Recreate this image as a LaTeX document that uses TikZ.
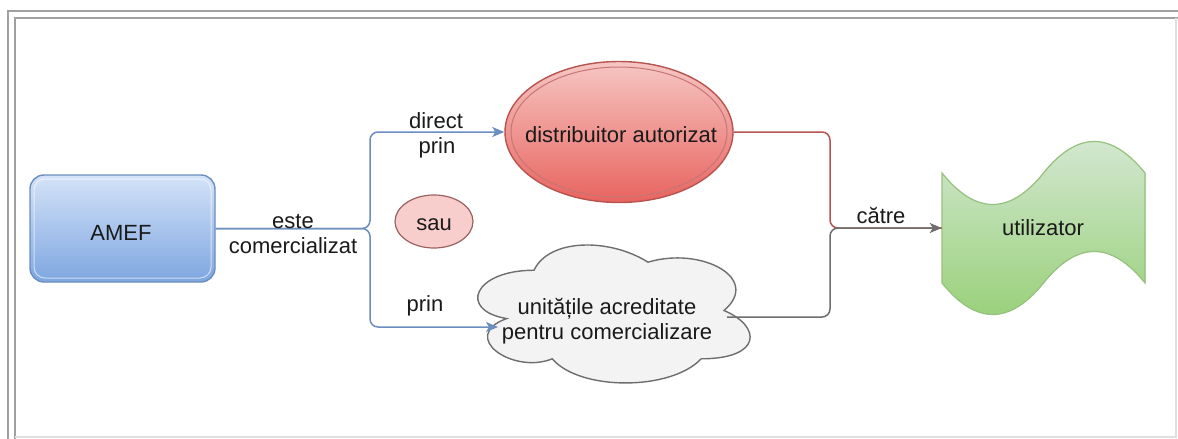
\documentclass[tikz,border=0pt]{standalone}
\usepackage{fontspec}
\setmainfont{Liberation Sans}
\usetikzlibrary{arrows.meta,shapes.geometric}
\definecolor{frameln}{HTML}{A0A0A0}
\definecolor{blueln}{HTML}{6C8EBF}
\definecolor{bluetop}{HTML}{D4E3F8}
\definecolor{bluebot}{HTML}{7EA6E0}
\definecolor{redln}{HTML}{B85450}
\definecolor{redtop}{HTML}{F6C6C3}
\definecolor{redbot}{HTML}{E8645F}
\definecolor{pinkfill}{HTML}{F8CECC}
\definecolor{grayln}{HTML}{6E6E6E}
\definecolor{cloudfill}{HTML}{F3F3F3}
\definecolor{greenln}{HTML}{97C17E}
\definecolor{greentop}{HTML}{D5E8D4}
\definecolor{greenbot}{HTML}{97D077}
\definecolor{txt}{HTML}{1A1A1A}
\begin{document}
\begin{tikzpicture}[x=1pt,y=-1pt,
  font=\fontsize{22}{26}\selectfont, text=txt,
  lbl/.style={anchor=base, inner sep=0pt},
  conn/.style={line width=1.5pt, rounded corners=8pt},
  tip/.style={-{Stealth[length=12pt,width=10pt,inset=3pt]}},
  framestyle/.style={frameln, line width=1.6pt}]
\useasboundingbox (0,0) rectangle (1178,439);
\fill[white] (0,0) rectangle (1178,439);
% frame
\draw[framestyle] (8,439) -- (8,11) -- (1178,11);
\draw[framestyle] (15,439) -- (15,18) -- (1178,18);
\draw[black!12, line width=1.2pt] (15,437) -- (1176,437) -- (1176,18);

% AMEF
\node[draw=blueln, line width=1.4pt, rounded corners=14pt, top color=bluetop, bottom color=bluebot,
      minimum width=185pt, minimum height=107pt, inner sep=0pt] (amef) at (122.5,228.5) {};
\draw[white, opacity=0.6, line width=1pt, rounded corners=11pt] (34,179) rectangle (211,278);
\node[lbl] (amefT) at (121,240) {AMEF};

% distribuitor autorizat
\node[ellipse, draw=redln, line width=1.4pt, top color=redtop, bottom color=redbot,
      minimum width=228pt, minimum height=141pt, inner sep=0pt] (dist) at (619,132) {};
\draw[redln!80, line width=1pt] (619,132) ellipse [x radius=108, y radius=65];
\node[lbl] (distT) at (621,142) {distribuitor autorizat};

% sau
\node[ellipse, draw=redln!70!black!80, line width=1.2pt, fill=pinkfill,
      minimum width=78pt, minimum height=53pt, inner sep=0pt] (sau) at (434,221.5) {};
\node[lbl] (sauT) at (434,230) {sau};

% cloud
\filldraw[fill=cloudfill, draw=grayln, line width=1.4pt]
  (534,270.25)
  .. controls (473.2,270.25) and (458,310.5) .. (506.64,318.55)
  .. controls (458,336.26) and (512.72,374.9) .. (552.24,358.8)
  .. controls (579.6,391) and (670.8,391) .. (701.2,358.8)
  .. controls (762,358.8) and (762,326.6) .. (724,310.5)
  .. controls (762,278.3) and (701.2,246.1) .. (648,262.2)
  .. controls (610,238.05) and (549.2,238.05) .. (534,270.25) -- cycle;
\node[inner sep=0pt, minimum width=290pt, minimum height=150pt] (cloud) at (610,310) {};
\node[lbl] (cloudT1) at (607,314) {unitățile acreditate};
\node[lbl] (cloudT2) at (607,339) {pentru comercializare};
\coordinate (cloudW) at (498,327);
\coordinate (cloudE) at (727,317);

% utilizator (tape)
\filldraw[draw=greenln, line width=1.2pt, top color=greentop, bottom color=greenbot]
  (942,173)
  .. controls (975.8,215) and (1009.7,215) .. (1043.5,173)
  .. controls (1077.3,131) and (1111.2,131) .. (1145,173)
  -- (1145,283)
  .. controls (1111.2,241) and (1077.3,241) .. (1043.5,283)
  .. controls (1009.7,325) and (975.8,325) .. (942,283) -- cycle;
\node[inner sep=0pt, minimum width=203pt, minimum height=180pt] (util) at (1043.5,228) {};
\node[lbl] (utilT) at (1043,235) {utilizator};

% left connectors
\coordinate (jl) at (370,228.5);
\draw[conn, blueln, tip] (amef.east) -- (jl) |- (dist.west);
\draw[conn, blueln, tip] (amef.east) -- (jl) |- (cloudW);

% right connectors
\coordinate (jr) at (830,228);
\draw[conn, redln] (dist.east) -| (jr) -- (util.west);
\draw[conn, grayln, tip] (cloudE) -| (jr) -- (util.west);

% labels
\node[lbl] (l1) at (293,228) {este};
\node[lbl] (l2) at (293,253) {comercializat};
\node[lbl] (l3) at (436,128) {direct};
\node[lbl] (l4) at (437,153) {prin};
\node[lbl] (l5) at (425,311) {prin};
\node[lbl] (l6) at (881,223) {către};
\end{tikzpicture}
\end{document}
